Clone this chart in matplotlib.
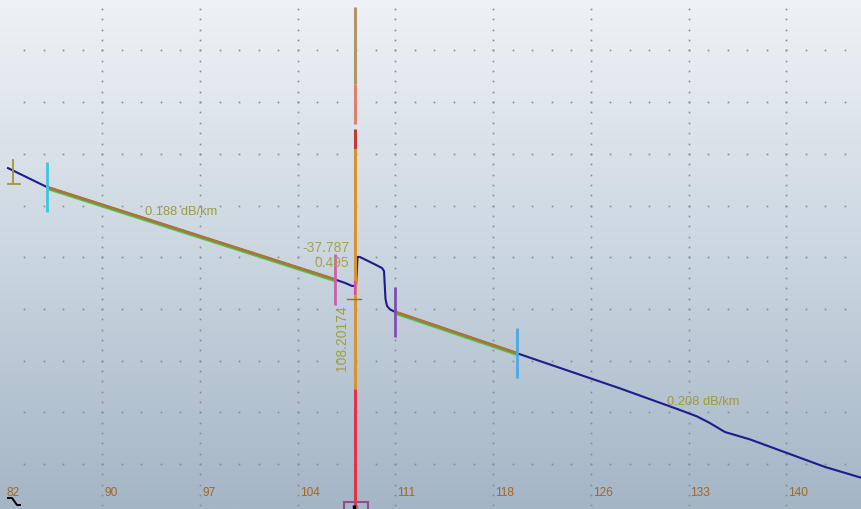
import numpy as np
import matplotlib
matplotlib.use("Agg")
import matplotlib.pyplot as plt
from matplotlib.patches import Rectangle
from matplotlib.colors import LinearSegmentedColormap
import matplotlib.transforms as mtransforms

# ---------------- data ----------------
tick_km = [82.4, 89.6, 96.8, 104.0, 111.2, 118.4, 125.6, 132.8, 140.0]
tick_labels = ["82", "90", "97", "104", "111", "118", "126", "133", "140"]

trace_km = [82.65, 85.53, 106.75, 107.49, 108.00, 108.30, 108.41, 108.58,
            109.03, 109.62, 110.21, 110.36, 110.47, 110.58, 110.80, 111.17,
            120.16, 127.75, 132.17, 133.43, 134.38, 135.49, 137.33, 139.91,
            142.86, 145.59]
trace_db = [15.13, 14.30, 10.28, 10.13, 10.00, 10.00, 11.26, 11.26,
            11.13, 10.96, 10.78, 10.65, 9.43, 9.13, 8.98, 8.87,
            7.07, 5.54, 4.60, 4.32, 4.03, 3.64, 3.32, 2.76,
            2.12, 1.64]

marker_km = [85.53, 106.75, 111.17, 120.16]
marker_colors = ["#3ec6dc", "#c860a8", "#7d4fb0", "#4aa8e4"]

start_marker_km = 83.02
start_marker_db = [14.44, 15.53]

section_km = [(85.53, 106.75), (111.17, 120.16)]
section_labels = ["0.188 dB/km", "0.208 dB/km"]
section_label_pos = [(92.75, 13.24), (131.22, 4.99)]

cursor_km = 108.20174
cursor_label = "108.20174"
event_reflectance = "-37.787"
event_loss = "0.495"
cursor_segments = [(22.14, 18.79, "#b39464"), (18.79, 17.05, "#d9826e"),
                   (16.83, 15.96, "#c23a34"), (15.96, 5.51, "#d8922e"),
                   (5.51, 0.29, "#e23448")]

XLIM = (82.061, 145.586)
YLIM = (0.29, 22.49)
GRID_DB = 2.25
GRID_KM = 7.2

# ---------------- figure ----------------
plt.rcParams["font.family"] = ["Liberation Sans", "DejaVu Sans"]
fig = plt.figure(figsize=(8.62, 5.10), dpi=100)
ax = fig.add_axes([0, 0, 1, 1])
ax.set_xlim(*XLIM)
ax.set_ylim(*YLIM)
ax.axis("off")

# background gradient
cmap = LinearSegmentedColormap.from_list(
    "bg", [(0.0, "#a4b5c6"), (0.5, "#cbd6e0"), (1.0, "#eef2f6")])
grad = np.linspace(0, 1, 256).reshape(-1, 1)
ax.imshow(grad, cmap=cmap, aspect="auto", origin="lower",
          extent=[0, 1, 0, 1], transform=ax.transAxes, zorder=0)

clip = Rectangle((8 / 862, 0), 1, 1, transform=ax.transAxes,
                 facecolor="none", edgecolor="none")
ax.add_patch(clip)

# dotted grid
rows = np.arange(GRID_DB, YLIM[1], GRID_DB)
xs = np.arange(tick_km[0], XLIM[1], GRID_KM / 5)
for r in rows:
    l, = ax.plot(xs, np.full_like(xs, r), ls="none", marker="s",
                 ms=1.2, color="#868b92", mec="none", zorder=1)
    l.set_clip_path(clip)
ys = np.arange(0.0, YLIM[1], GRID_DB / 5)
for t in tick_km:
    l, = ax.plot(np.full_like(ys, t), ys, ls="none", marker="s",
                 ms=1.2, color="#868b92", mec="none", zorder=1)
    l.set_clip_path(clip)

# tick labels
btrans = mtransforms.blended_transform_factory(ax.transData, ax.transAxes)
for t, lab in zip(tick_km, tick_labels):
    txt = ax.text(t, 1 - 493 / 510, lab, transform=btrans
                  + mtransforms.ScaledTranslation(2 / 100, 0, fig.dpi_scale_trans),
                  ha="left", va="center", fontsize=8.6, color="#a0682a", zorder=5)
    txt.set_clip_path(clip)

# trace
tk = np.array(trace_km)
td = np.array(trace_db)
ax.plot(tk, td, color="#1c1c8c", lw=1.5, zorder=3, solid_joinstyle="round")

# fitted sections
down = mtransforms.ScaledTranslation(0, -1.0 / 100, fig.dpi_scale_trans)
for (a, b) in section_km:
    m = (tk >= a - 1e-6) & (tk <= b + 1e-6)
    ax.plot(tk[m], td[m], color="#4cc84c", lw=2.5, zorder=4,
            transform=ax.transData + down, solid_capstyle="butt")
    ax.plot(tk[m], td[m], color="#a8763c", lw=2.1, zorder=4,
            solid_capstyle="butt")

for (x, y), s in zip(section_label_pos, section_labels):
    ax.text(x, y, s, ha="left", va="center", fontsize=9.3,
            color="#9c9c3a", zorder=6)

# markers
for k, c in zip(marker_km, marker_colors):
    y = np.interp(k, tk, td)
    ax.plot([k, k], [y - 1.09, y + 1.09], color=c, lw=2.0, zorder=5,
            solid_capstyle="butt")

# start marker
ax.plot([start_marker_km, start_marker_km], start_marker_db,
        color="#a09a30", lw=1.3, zorder=5, solid_capstyle="butt")
ax.plot([start_marker_km - 0.37, start_marker_km + 0.51],
        [start_marker_db[0]] * 2, color="#a09a30", lw=1.3, zorder=5)

# cursor line
for y0, y1, c in cursor_segments:
    ax.plot([cursor_km, cursor_km], [y0, y1], color=c, lw=2.2, zorder=7,
            solid_capstyle="butt")
ax.plot([cursor_km, cursor_km], [10.22, 9.61], color="#e040d0", lw=1.6,
        zorder=8, solid_capstyle="butt")
ax.plot([cursor_km - 0.55, cursor_km + 0.45], [9.43, 9.43],
        color="#857448", lw=1.0, zorder=8)

# cursor texts
ax.text(cursor_km - 0.4, 11.71, event_reflectance, ha="right", va="center",
        fontsize=10, color="#a4a44c", zorder=9)
ax.text(cursor_km - 0.4, 11.04, event_loss, ha="right", va="center",
        fontsize=10, color="#a4a44c", zorder=9)
ax.text(cursor_km - 0.92, 7.75, cursor_label, ha="center", va="center",
        rotation=90, fontsize=10, color="#a0a044", zorder=9)

# cursor handle at bottom
ax.add_patch(Rectangle((cursor_km - 0.78, -0.5), 1.75, 0.5 + 0.6,
                       facecolor="none", edgecolor="#8e4f8e", lw=1.5, zorder=9))
ax.plot([cursor_km - 0.05, cursor_km - 0.05], [0.0, 0.45], color="black",
        lw=2.5, zorder=10, solid_capstyle="butt")
ax.plot([cursor_km + 0.2, cursor_km + 0.2], [0.0, 0.45], color="#6a8ab8",
        lw=1.0, zorder=10, solid_capstyle="butt")

# small glyph bottom-left
ax.plot([8 / 862, 12 / 862, 17 / 862, 20 / 862],
        [1 - 499 / 510, 1 - 499 / 510, 1 - 506 / 510, 1 - 506 / 510],
        transform=ax.transAxes, color="black", lw=1.4, zorder=10)

fig.savefig("out.png", dpi=100)
